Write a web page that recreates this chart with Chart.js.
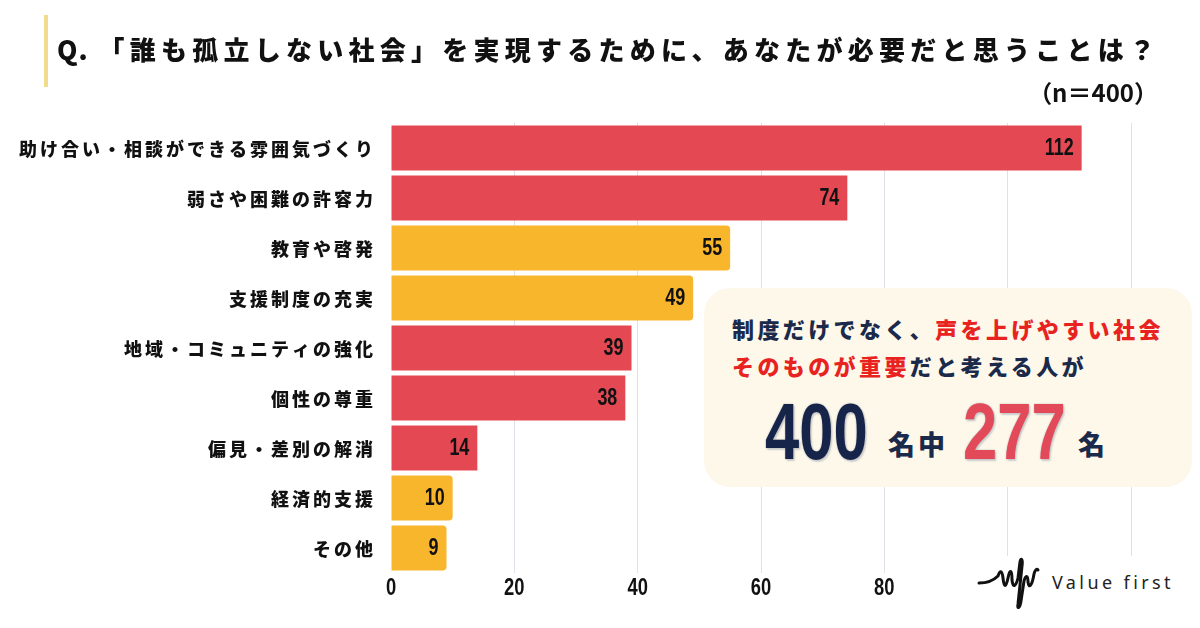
<!DOCTYPE html>
<html lang="ja">
<head>
<meta charset="utf-8">
<script src="https://cdn.jsdelivr.net/npm/chart.js@4"></script>
<style>
  html, body { margin: 0; padding: 0; background: #fff; }
  #wrap { position: relative; width: 1200px; height: 628px; overflow: hidden; font-family: "Noto Sans CJK JP", "Noto Sans", sans-serif; }
  #chart { position: absolute; left: 0; top: 0; }
  .qbar { position: absolute; left: 44px; top: 15px; width: 4px; height: 72px; background: #f1dc8e; }
  .title { position: absolute; left: 57px; top: 33px; font-size: 26px; font-weight: 900; color: #111; white-space: nowrap; line-height: 1.2; }
  .title .q { letter-spacing: 1px; margin-right: 10px; }
  .title .jp { letter-spacing: 5.25px; }
  .n { position: absolute; right: 42px; top: 78px; font-size: 24px; font-weight: 700; color: #111; line-height: 1.2; }
  .callout { position: absolute; left: 704px; top: 288px; width: 488px; height: 199px; border-radius: 26px; background: #fdf8ea; }
  .callout .l { position: absolute; left: 28px; font-size: 22px; font-weight: 900; letter-spacing: 3.4px; color: #1b2a4a; white-space: nowrap; line-height: 1; }
  .callout .red { color: #e8231f; }
  .num { position: absolute; top: 104px; font-family: "Liberation Sans", sans-serif; font-weight: 700; font-size: 80px; line-height: 1;
         transform: scaleX(0.77); transform-origin: 0 0; white-space: nowrap; }
  .navy { color: #16244a; text-shadow: 0 0 2px #b0b0b0, 2px 2px 2px #cfcfcf; }
  .pink { color: #e24a5a; text-shadow: 0 0 2px #b0b0b0, 2px 2px 2px #cfcfcf; }
  .unit { position: absolute; top: 142px; font-size: 27px; font-weight: 900; letter-spacing: 3px; color: #1b2a4a; line-height: 1; white-space: nowrap; }
  .logo { position: absolute; left: 985px; top: 556px; width: 215px; height: 72px; background: #fff; }
  .logo svg { position: absolute; left: -8px; top: 0; }
  .logo span { position: absolute; left: 67px; top: 14px; font-family: "Noto Sans", sans-serif; font-size: 18px; letter-spacing: 3.4px; color: #222; }
</style>
</head>
<body>
<div id="wrap">
  <canvas id="chart" width="1200" height="628"></canvas>
  <div class="qbar"></div>
  <div class="title"><span class="q">Q.</span><span class="jp">「誰も孤立しない社会」を実現するために、あなたが必要だと思うことは？</span></div>
  <div class="n">（n＝400）</div>
  <div class="callout">
    <div class="l" style="top:29px">制度だけでなく、<span class="red">声を上げやすい社会</span></div>
    <div class="l" style="top:66px"><span class="red">そのものが重要</span>だと考える人が</div>
    <span class="num navy" style="left:61px">400</span>
    <span class="unit" style="left:184px">名中</span>
    <span class="num pink" style="left:259px">277</span>
    <span class="unit" style="left:374px">名</span>
  </div>
  <div class="logo">
    <svg width="70" height="60" viewBox="0 0 70 60">
      <path d="M2,27 C10,27 16,25 21,20 C23,14 25,14 26,22 C27,32 29,32 31,22 C33,12 35,14 35,24 C36,33 39,30 41,22 L43,6 C44,1 46,3 45,10 L41,48 C40,54 43,52 44,45 L47,25 C49,18 51,20 51,26 C52,33 55,30 57,18 C58,14 60,12 61,14"
            fill="none" stroke="#111" stroke-width="3" stroke-linecap="round" stroke-linejoin="round"/>
    </svg>
    <span>Value first</span>
  </div>
</div>
<script>
(function () {

  // ---- data ----
  const categories = [
    '助け合い・相談ができる雰囲気づくり',
    '弱さや困難の許容力',
    '教育や啓発',
    '支援制度の充実',
    '地域・コミュニティの強化',
    '個性の尊重',
    '偏見・差別の解消',
    '経済的支援',
    'その他'
  ];
  const counts = [112, 74, 55, 49, 39, 38, 14, 10, 9];
  const barColors = [
    '#e34853', '#e34853', '#f8b62c', '#f8b62c', '#e34853',
    '#e34853', '#e34853', '#f8b62c', '#f8b62c'
  ];
  const xTicks = [0, 20, 40, 60, 80, 100, 120];

  const RED = '#e34853';
  const GRID = '#e2dfe8';
  const NUM_FONT = '"Liberation Sans", Arial, sans-serif';

  // squeezed digits, the reference uses a condensed face
  function narrowText(ctx, txt, x, y, align, sx) {
    ctx.save();
    ctx.translate(x, y);
    ctx.scale(sx, 1);
    ctx.textAlign = align;
    ctx.fillText(txt, 0, 0);
    ctx.restore();
  }

  // y-axis labels, x tick labels and bar values drawn over the library's scales
  const labelPlugin = {
    id: 'labelPlugin',
    afterDraw(chart) {
      const ctx = chart.ctx;
      const xScale = chart.scales.x;
      const yScale = chart.scales.y;
      const meta = chart.getDatasetMeta(0);

      ctx.save();
      ctx.fillStyle = '#111';
      ctx.textBaseline = 'middle';

      // category labels
      ctx.font = '900 18px "Noto Sans CJK JP", sans-serif';
      ctx.letterSpacing = '3px';
      ctx.textAlign = 'right';
      categories.forEach((c, i) => {
        ctx.fillText(c, 376, yScale.getPixelForTick(i) + 1);
      });
      ctx.letterSpacing = '0px';

      // values at bar ends
      ctx.font = 'bold 23px ' + NUM_FONT;
      meta.data.forEach((bar, i) => {
        narrowText(ctx, String(counts[i]), bar.x - 8, bar.y + 1, 'right', 0.78);
      });

      // x tick labels
      ctx.font = 'bold 23px ' + NUM_FONT;
      xTicks.forEach(v => {
        narrowText(ctx, String(v), xScale.getPixelForValue(v), 589, 'center', 0.8);
      });
      ctx.restore();
    }
  };

  new Chart(document.getElementById('chart').getContext('2d'), {
    type: 'bar',
    data: {
      labels: categories,
      datasets: [{
        data: counts,
        backgroundColor: barColors,
        borderRadius: ctx => (barColors[ctx.dataIndex] === RED ? 0 : 4),
        borderSkipped: 'start',
        barPercentage: 0.9,
        categoryPercentage: 1.0
      }]
    },
    options: {
      indexAxis: 'y',
      responsive: false,
      animation: false,
      layout: { padding: { top: 123, right: 69, left: 0, bottom: 0 } },
      plugins: {
        legend: { display: false },
        tooltip: { enabled: false }
      },
      scales: {
        x: {
          min: 0,
          max: 120,
          afterBuildTicks: s => { s.ticks = xTicks.map(v => ({ value: v })); },
          afterFit: s => { s.height = 55; },
          border: { display: false },
          grid: {
            color: c => (c.tick && c.tick.value === 0 ? 'rgba(0,0,0,0)' : GRID),
            drawTicks: false
          },
          ticks: { display: false }
        },
        y: {
          afterFit: s => { s.width = 391; },
          border: { display: false },
          grid: { display: false },
          ticks: { display: false }
        }
      }
    },
    plugins: [labelPlugin]
  });

})();
</script>
</body>
</html>
